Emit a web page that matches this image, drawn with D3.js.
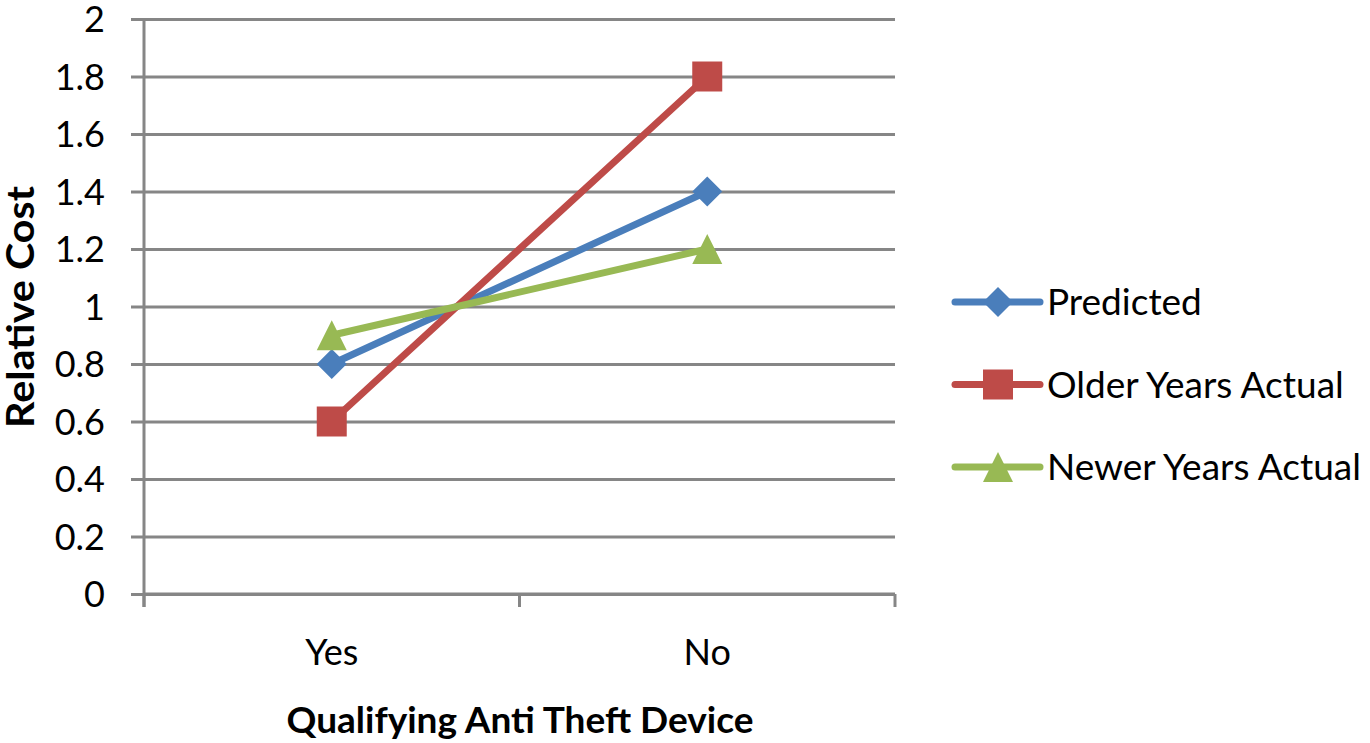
<!DOCTYPE html>
<html>
<head>
<meta charset="utf-8">
<script src="https://cdn.jsdelivr.net/npm/d3@7"></script>
<style>
  html, body { margin: 0; padding: 0; background: #fff; }
  svg { display: block; }
  text { font-family: Lato, "Open Sans", sans-serif; fill: #000; }
</style>
</head>
<body>
<svg id="chart" width="1370" height="743"></svg>
<script>
// Chart data
const categories = ["Yes", "No"];
const seriesNames = ["Predicted", "Older Years Actual", "Newer Years Actual"];
const predicted = [0.8, 1.4];
const olderYearsActual = [0.6, 1.8];
const newerYearsActual = [0.9, 1.2];
const yTicks = [0, 0.2, 0.4, 0.6, 0.8, 1, 1.2, 1.4, 1.6, 1.8, 2];

const series = [
  { name: seriesNames[0], values: predicted, color: "#4a7ebb", marker: "diamond" },
  { name: seriesNames[1], values: olderYearsActual, color: "#be4b48", marker: "square" },
  { name: seriesNames[2], values: newerYearsActual, color: "#98b954", marker: "triangle" }
];

const svg = d3.select("#chart");
const plot = { left: 144, right: 895, top: 19, bottom: 594 };
const gridColor = "#868686";

const x = d3.scaleBand().domain(categories).range([plot.left, plot.right]);
const y = d3.scaleLinear().domain([0, 2]).range([plot.bottom, plot.top]);

// Horizontal gridlines with outward ticks on the left
const yAxis = d3.axisLeft(y).tickValues(yTicks)
  .tickSize(-(plot.right - plot.left)).tickPadding(0)
  .tickFormat(d => d3.format("")(d));
const gy = svg.append("g").attr("transform", `translate(${plot.left},0)`).call(yAxis);
gy.select(".domain").remove();
gy.selectAll(".tick line").attr("x1", -13).attr("stroke", gridColor).attr("stroke-width", 3);
gy.selectAll(".tick text").attr("x", -39).attr("dy", "0.36em")
  .style("font-size", "36px").attr("fill", "#000").attr("text-anchor", "end");

// Vertical axis line
svg.append("line").attr("x1", plot.left).attr("x2", plot.left)
  .attr("y1", plot.top).attr("y2", plot.bottom + 13)
  .attr("stroke", gridColor).attr("stroke-width", 3);

// Category axis: bottom line with boundary ticks
const gx = svg.append("g").attr("transform", `translate(0,${plot.bottom})`)
  .call(d3.axisBottom(x).tickSize(0).tickPadding(0));
gx.select(".domain").attr("stroke", gridColor).attr("stroke-width", 3)
  .attr("d", `M${plot.left},0H${plot.right}`);
gx.selectAll(".tick text").attr("y", 71).attr("dy", 0)
  .style("font-size", "36px").attr("fill", "#000");
const bounds = [plot.left, ...categories.map(c => x(c) + x.bandwidth())];
gx.selectAll("line.bound").data(bounds).enter().append("line")
  .attr("class", "bound")
  .attr("x1", d => d).attr("x2", d => d).attr("y1", 0).attr("y2", 13)
  .attr("stroke", gridColor).attr("stroke-width", 3);

// Marker shapes
const markerSize = 30;
function markerPath(type, s) {
  const h = s / 2;
  if (type === "diamond") return `M0,${-h}L${h},0L0,${h}L${-h},0Z`;
  if (type === "square") return `M${-h},${-h}H${h}V${h}H${-h}Z`;
  return `M0,${-h}L${h},${h}H${-h}Z`;
}

const line = d3.line().x((d, i) => x(categories[i]) + x.bandwidth() / 2).y(d => y(d));

// Lines first, then markers on top
series.forEach(s => {
  svg.append("path").datum(s.values)
    .attr("d", line).attr("fill", "none")
    .attr("stroke", s.color).attr("stroke-width", 7).attr("stroke-linecap", "round");
});
series.forEach(s => {
  svg.selectAll(null).data(s.values).enter().append("path")
    .attr("d", markerPath(s.marker, markerSize))
    .attr("transform", (d, i) => `translate(${x(categories[i]) + x.bandwidth() / 2},${y(d)})`)
    .attr("fill", s.color);
});

// Axis titles
svg.append("text").attr("x", 520).attr("y", 733).attr("text-anchor", "middle")
  .style("font-size", "37px").style("font-weight", "bold")
  .text("Qualifying Anti Theft Device");
svg.append("text").attr("transform", "translate(34,307) rotate(-90)")
  .attr("text-anchor", "middle")
  .attr("textLength", 242).attr("lengthAdjust", "spacingAndGlyphs")
  .style("font-size", "38px").style("font-weight", "bold")
  .text("Relative Cost");

// Legend
const legend = svg.append("g");
series.forEach((s, i) => {
  const cy = 302 + i * 82.5;
  const g = legend.append("g").attr("transform", `translate(0,${cy})`);
  g.append("line").attr("x1", 955).attr("x2", 1040).attr("y1", 0).attr("y2", 0)
    .attr("stroke", s.color).attr("stroke-width", 7).attr("stroke-linecap", "round");
  g.append("path").attr("d", markerPath(s.marker, markerSize))
    .attr("transform", "translate(998,0)").attr("fill", s.color);
  g.append("text").attr("x", 1047).attr("y", 0).attr("dy", "0.36em")
    .style("font-size", "37px").text(s.name);
});
</script>
</body>
</html>
